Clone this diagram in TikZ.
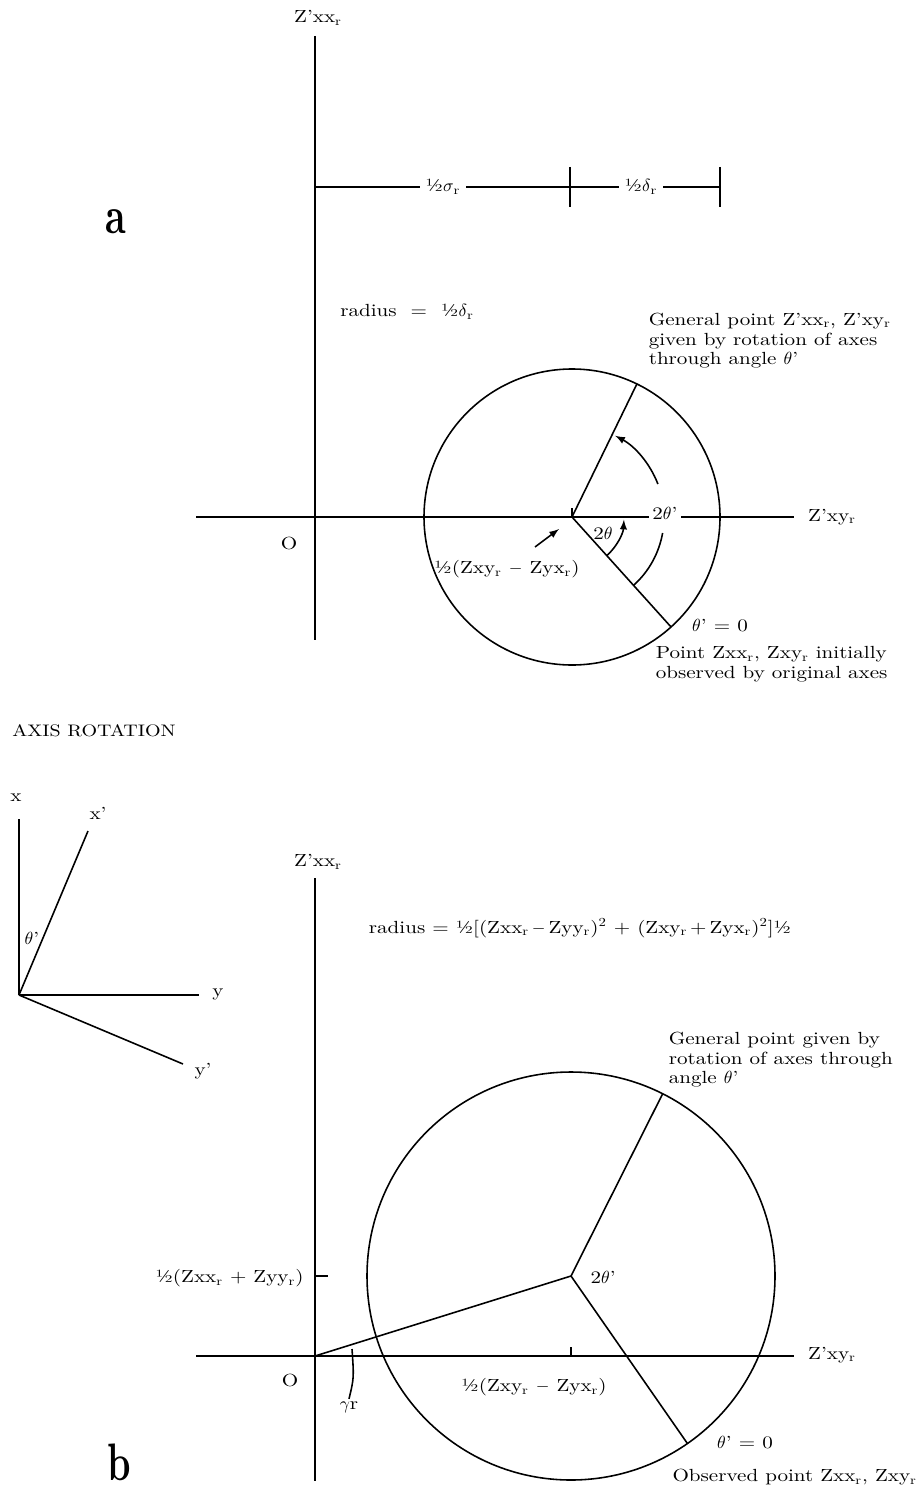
\documentclass[tikz,border=0pt]{standalone}
\usepackage{fontspec}
\setmainfont{lmroman10-regular.otf}[FakeStretch=1.2, BoldFont=lmroman10-bold.otf]
\newfontfamily\panelfont{lmroman10-bold.otf}[FakeStretch=0.7]
\usetikzlibrary{arrows.meta, calc}
\newcommand{\sr}{\textsubscript{r}}

\begin{document}
\begin{tikzpicture}[x=0.02cm, y=-0.02cm, line width=0.9pt, >=latex, font=\fontsize{10}{11.3}\selectfont]
    \tikzset{lbl/.style={inner sep=1pt}, gap/.style={fill=white, inner sep=3pt},
             note/.style={align=left, anchor=north west, inner sep=0pt},
             panel/.style={font=\panelfont\fontsize{30}{30}\selectfont, inner sep=0pt}}
    \useasboundingbox (0,0) rectangle (919,1490);

    % (a) circle for a pure shear
    \def\ra{148}
    \coordinate (Oa) at (315,517);
    \coordinate (Ca) at (572,517);
    \coordinate (Pa) at ($(Ca)+(-64:\ra)$);
    \coordinate (Qa) at ($(Ca)+(48:\ra)$);
    \draw (315,36) -- (315,640);
    \draw (196,517) -- (794,517);
    \node[lbl] (zxxa) at (318,18) {Z'xx\sr};
    \node[lbl] (zxya) at (832,517) {Z'xy\sr};
    \node[lbl] (oa) at (289,543) {O};
    \node[panel] (pa) at (116,222) {a};

    \draw (315,187) -- (720,187);
    \draw (570,167) -- (570,207);
    \draw (720,167) -- (720,207);
    \node[gap] (sig) at (443,187) {½$\sigma$\sr};
    \node[gap] (del) at (641,187) {½$\delta$\sr};
    \node[lbl] (rada) at (407,312) {radius\ \ =\ \ ½$\delta$\sr};

    \draw (Ca) circle[radius=\ra];
    \draw (Ca) -- (Pa);
    \draw (Ca) -- (Qa);
    \draw (Ca) -- ++(0,-9);
    \draw[->] ($(Ca)+(48:52)$) arc[start angle=48, end angle=3, radius=52];
    \draw ($(Ca)+(48:92)$) arc[start angle=48, end angle=10, radius=92];
    \draw[->] ($(Ca)+(-21:92)$) arc[start angle=-21, end angle=-62, radius=92];
    \node[gap, inner sep=2pt] (tta) at (665,513) {2$\theta$'};
    \node[lbl] (ta) at (603,533) {2$\theta$};
    \node[lbl] (hfa) at (507,569) {½(Zxy\sr\ $-$ Zyx\sr)};
    \coordinate (ptrA) at (535,547);
    \coordinate (ptrB) at (559,529);
    \draw[->] (ptrA) -- (ptrB);
    \node[lbl] (t0a) at (720,626) {$\theta$' = 0};
    \node[note] (gena) at (648,312) {General point Z'xx\sr, Z'xy\sr\\given by rotation of axes\\through angle $\theta$'};
    \node[note] (pnta) at (655,646) {Point Zxx\sr, Zxy\sr\ initially\\observed by original axes};

    \node[lbl, font=\fontsize{9.5}{11}\selectfont] (rot) at (94,731) {AXIS ROTATION};

    % small sketch of the rotated axes
    \coordinate (o2) at (19,995);
    \coordinate (xe) at (19,819);
    \coordinate (xpe) at (88,831);
    \coordinate (ye) at (199,995);
    \coordinate (ype) at (183,1064);
    \draw (o2) -- (xe);
    \draw (o2) -- (xpe);
    \draw (o2) -- (ye);
    \draw (o2) -- (ype);
    \node[lbl] (xl) at (16,798) {x};
    \node[lbl] (xpl) at (98,813) {x'};
    \node[lbl] (yl) at (218,995) {y};
    \node[lbl] (ypl) at (203,1071) {y'};
    \node[lbl] (thl) at (32,938) {$\theta$'};

    % (b) general circle
    \def\rb{204}
    \coordinate (Ob) at (315,1356);
    \coordinate (Cb) at (571,1276);
    \coordinate (Pb) at ($(Cb)+(-63.3:\rb)$);
    \coordinate (Qb) at ($(Cb)+(55.2:\rb)$);
    \draw (315,878) -- (315,1481);
    \draw (196,1356) -- (794,1356);
    \node[lbl] (zxxb) at (318,862) {Z'xx\sr};
    \node[lbl] (zxyb) at (832,1355) {Z'xy\sr};
    \node[lbl] (ob) at (290,1380) {O};
    \node[panel] (pb) at (119,1462) {b};
    \node[lbl] (radb) at (580,928) {radius\ =\ ½[(Zxx\sr\,$-$\,Zyy\sr)\textsuperscript{2} + (Zxy\sr\,+\,Zyx\sr)\textsuperscript{2}]½};

    \draw (Cb) circle[radius=\rb];
    \draw (Ob) -- (Cb);
    \draw (Cb) -- (Pb);
    \draw (Cb) -- (Qb);
    \draw (Cb |- Ob) -- ++(0,-9);
    \draw (315,1276) -- (328,1276);
    \node[lbl, anchor=east] (hsb) at (306,1278) {½(Zxx\sr\ + Zyy\sr)};
    \node[lbl, anchor=west] (ttb) at (588,1277) {2$\theta$'};
    \node[lbl] (hfb) at (534,1387) {½(Zxy\sr\ $-$ Zyx\sr)};
    \node[lbl] (gam) at (349,1407) {$\gamma$r};
    \draw (gam.north) .. controls (354,1378) .. (352,1349);
    \node[lbl] (t0b) at (745,1443) {$\theta$' = 0};
    \node[lbl, anchor=west] (obsb) at (670,1477) {Observed point Zxx\sr, Zxy\sr};
    \node[note] (genb) at (668,1031) {General point given by\\rotation of axes through\\angle $\theta$'};
\end{tikzpicture}
\end{document}
